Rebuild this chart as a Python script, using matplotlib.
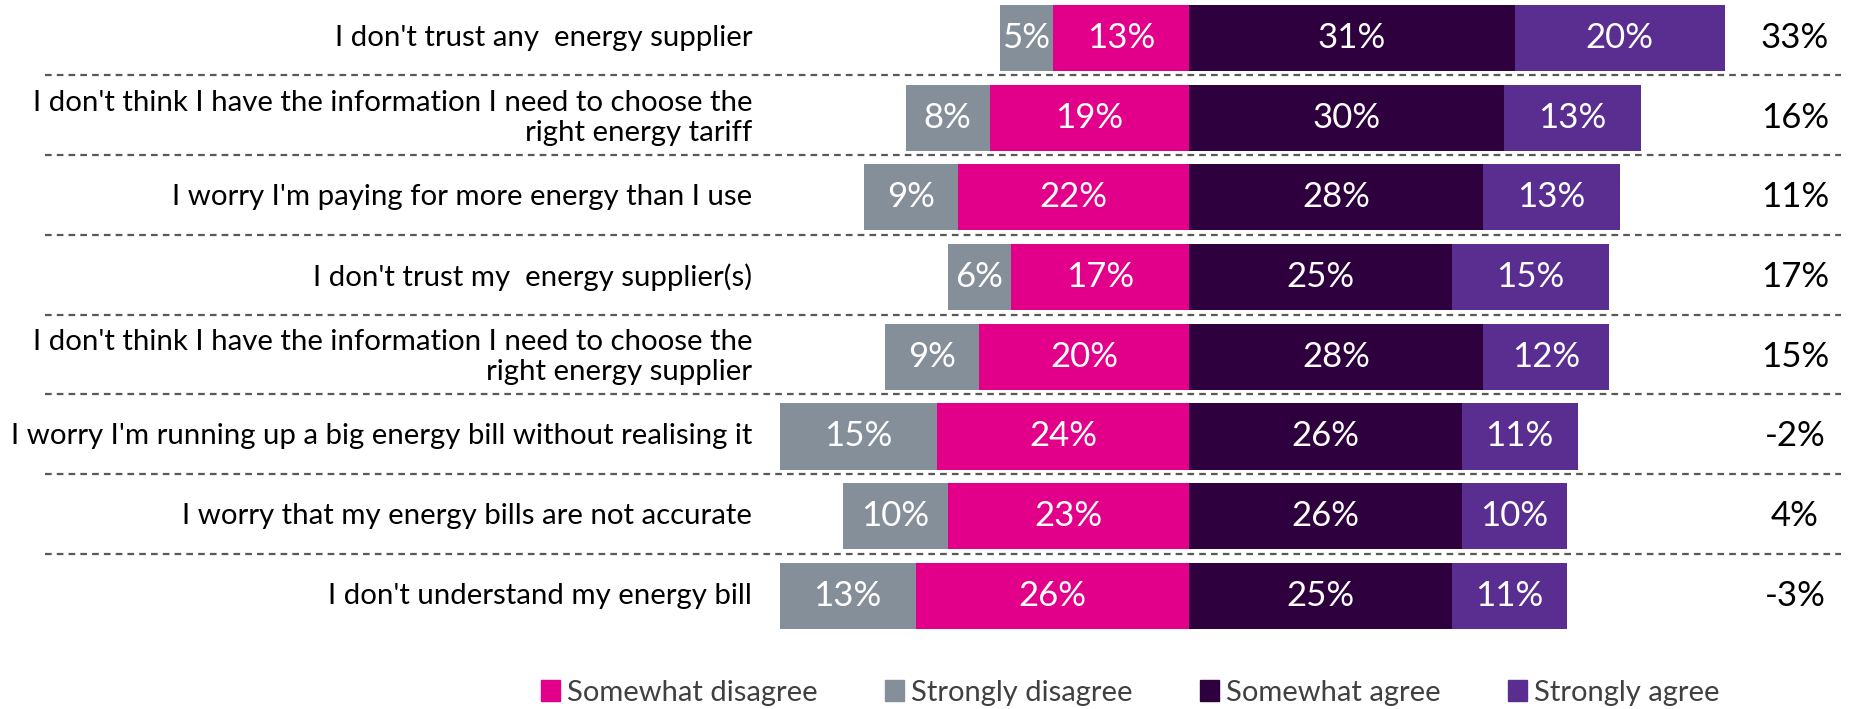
import numpy as np
import matplotlib.pyplot as plt
from matplotlib.patches import Patch

plt.rcParams['font.family'] = ['Lato', 'DejaVu Sans']

# ------------------- datos -------------------
preguntas = [
    "I don't trust any  energy supplier",
    "I don't think I have the information I need to choose the\nright energy tariff",
    "I worry I'm paying for more energy than I use",
    "I don't trust my  energy supplier(s)",
    "I don't think I have the information I need to choose the\nright energy supplier",
    "I worry I'm running up a big energy bill without realising it",
    "I worry that my energy bills are not accurate",
    "I don't understand my energy bill",
]
strongly_disagree = [5, 8, 9, 6, 9, 15, 10, 13]
somewhat_disagree = [13, 19, 22, 17, 20, 24, 23, 26]
somewhat_agree = [31, 30, 28, 25, 28, 26, 26, 25]
strongly_agree = [20, 13, 13, 15, 12, 11, 10, 11]
neto = ["33%", "16%", "11%", "17%", "15%", "-2%", "4%", "-3%"]

# colores
C_SD = '#858f9a'
C_SWD = '#e2008a'
C_SWA = '#2e003e'
C_SA = '#5a2d91'

fig = plt.figure(figsize=(18.5, 7.09), dpi=100)
ax = fig.add_axes([0, 0, 1, 1])

y = np.arange(len(preguntas))
alto = 0.83

sd = np.array(strongly_disagree)
swd = np.array(somewhat_disagree)
swa = np.array(somewhat_agree)
sa = np.array(strongly_agree)

ax.barh(y, -swd, height=alto, color=C_SWD)
ax.barh(y, -sd, left=-swd, height=alto, color=C_SD)
ax.barh(y, swa, height=alto, color=C_SWA)
ax.barh(y, sa, left=swa, height=alto, color=C_SA)

fs_num = 25
for i in range(len(y)):
    ax.text(-swd[i] - sd[i] / 2, y[i], f"{sd[i]}%", ha='center', va='center', color='white', fontsize=fs_num)
    ax.text(-swd[i] / 2, y[i], f"{swd[i]}%", ha='center', va='center', color='white', fontsize=fs_num)
    ax.text(swa[i] / 2, y[i], f"{swa[i]}%", ha='center', va='center', color='white', fontsize=fs_num)
    ax.text(swa[i] + sa[i] / 2, y[i], f"{sa[i]}%", ha='center', va='center', color='white', fontsize=fs_num)
    # neto a la derecha
    ax.text(57.7, y[i], neto[i], ha='center', va='center', color='black', fontsize=fs_num)
    # etiqueta de la pregunta
    ax.text(-41.6, y[i], preguntas[i], ha='right', va='center', color='black',
            fontsize=21.2, linespacing=1.2)

# lineas discontinuas entre filas
for i in range(len(y) - 1):
    ax.plot([-109, 62.1], [y[i] + 0.47, y[i] + 0.47], color='#595959', lw=1.6,
            linestyle=(0, (3, 2.3)))

ax.set_xlim(-1189 / 10.5, (1850 - 1189) / 10.5)
ax.set_ylim(8.42, -0.477)
ax.axis('off')

handles = [Patch(color=C_SWD), Patch(color=C_SD), Patch(color=C_SWA), Patch(color=C_SA)]
etiquetas = ['Somewhat disagree', 'Strongly disagree', 'Somewhat agree', 'Strongly agree']
fig.legend(handles, etiquetas, loc='center', bbox_to_anchor=(0.611, 0.023), ncol=4, frameon=False,
           fontsize=21, handlelength=0.65, handleheight=0.75, handletextpad=0.25, columnspacing=2.3,
           labelcolor='#404040')

fig.savefig('out.png', dpi=100)
